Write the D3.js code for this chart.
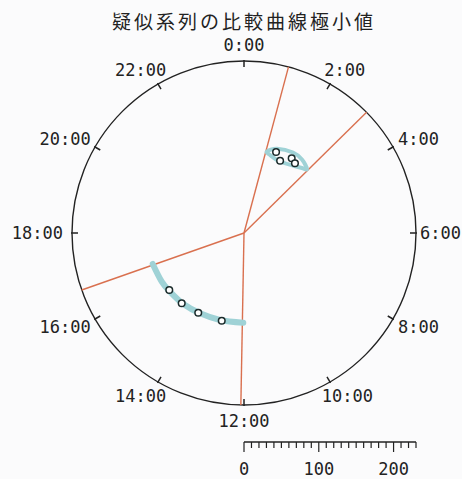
<!DOCTYPE html>
<html><head><meta charset="utf-8">
<script src="https://cdn.jsdelivr.net/npm/d3@7/dist/d3.min.js"></script>
<style>html,body{margin:0;padding:0;background:#fbfbfc;}svg{display:block;}</style>
</head><body><svg id="c" width="462" height="479"></svg>
<script>
// ---- data ----
const titleText = "疑似系列の比較曲線極小値";
const hourTicks = [0,2,4,6,8,10,12,14,16,18,20,22];
const hourLabels = ["0:00","2:00","4:00","6:00","8:00","10:00","12:00","14:00","16:00","18:00","20:00","22:00"];
const radialMax = 230;
const scaleTicksMajor = [0,100,200];
const scaleTickStep = 10;
// boundary lines (hours)
const boundaryHours = [1.0, 3.03, 12.07, 16.71];
// comparison curve (top loop)
const loopHours  = [1.05, 1.43, 2.09, 2.55, 2.97, 2.78, 2.40, 1.78, 1.23];
const loopValues = [113.2, 121.0, 126.0, 125.2, 120.0, 116.5, 111.5, 107.0, 110.0];
// comparison curve (bottom arc)
const arcHours  = [16.75, 15.96, 15.44, 14.70, 13.91, 13.03, 12.03];
const arcValues = [128.9, 127.8, 126.3, 124.9, 122.4, 120.7, 120.0];
// minima points
const pointHours  = [1.44, 1.77, 2.17, 2.41, 15.51, 14.77, 13.99, 12.95];
const pointValues = [116.5, 108.0, 118.5, 115.5, 125.7, 125.6, 122.9, 121.0];

// ---- drawing ----
const svg = d3.select("#c");
const cx = 244, cy = 233, R = 172;
const W = 462;
const ang = d3.scaleLinear().domain([0,24]).range([0, 2*Math.PI]);
const rad = d3.scaleLinear().domain([0, radialMax]).range([0, R]);
const g = svg.append("g").attr("transform", `translate(${cx},${cy})`);
const monoFont = "'DejaVu Sans Mono', monospace";

svg.append("text").attr("x", cx).attr("y", 29).attr("text-anchor","middle")
  .attr("font-family","'Noto Sans CJK JP'").attr("font-size",19).attr("letter-spacing",3)
  .attr("fill","#222").text(titleText);

g.append("circle").attr("r", R).attr("fill","none").attr("stroke","#222").attr("stroke-width",1.4);

// hour ticks and labels
hourTicks.forEach((h,i) => {
  const a = ang(h), s = Math.sin(a), c = -Math.cos(a);
  g.append("line").attr("x1", s*(R+1)).attr("y1", c*(R+1)).attr("x2", s*(R-6)).attr("y2", c*(R-6))
    .attr("stroke","#222").attr("stroke-width",1.5);
  const t = g.append("text").attr("font-family", monoFont).attr("font-size",17).attr("fill","#222")
    .attr("text-anchor","middle").attr("dominant-baseline","central").text(hourLabels[i]);
  const w = t.node().getComputedTextLength();
  const hh = 14;
  const d = R + 9;
  let x = s*d + s*w/2;
  // keep labels inside the page width
  const maxX = W - cx - w/2 - 1;
  if (x > maxX) x = maxX;
  t.attr("x", x).attr("y", c*d + c*hh/2);
});

// boundary lines
g.selectAll(".bl").data(boundaryHours).join("line")
  .attr("x1",0).attr("y1",0)
  .attr("x2", h => Math.sin(ang(h))*rad(radialMax))
  .attr("y2", h => -Math.cos(ang(h))*rad(radialMax))
  .attr("stroke","#d9704f").attr("stroke-width",1.4);

// comparison curves
const loopData = loopHours.map((h,i)=>[h, loopValues[i]]);
const arcData = arcHours.map((h,i)=>[h, arcValues[i]]);
const lr = d3.lineRadial().angle(d=>ang(d[0])).radius(d=>rad(d[1]));
g.append("path").attr("d", lr.curve(d3.curveCardinalClosed)(loopData))
  .attr("fill","none").attr("stroke","#9fd2d6").attr("stroke-width",4);
g.append("path").attr("d", lr.curve(d3.curveCardinal)(arcData))
  .attr("fill","none").attr("stroke","#9fd2d6").attr("stroke-width",6).attr("stroke-linecap","round");

// points
g.selectAll(".pt").data(pointHours.map((h,i)=>[h, pointValues[i]])).join("circle")
  .attr("cx", d => Math.sin(ang(d[0]))*rad(d[1]))
  .attr("cy", d => -Math.cos(ang(d[0]))*rad(d[1]))
  .attr("r", 3.3).attr("fill","#fff").attr("stroke","#1a2a2a").attr("stroke-width",1.5);

// scale bar
const sb = svg.append("g").attr("transform", `translate(${cx},442)`);
sb.append("line").attr("x1", rad(0)).attr("x2", rad(radialMax)).attr("y1",0).attr("y2",0)
  .attr("stroke","#222").attr("stroke-width",1.4);
const minorTicks = d3.range(0, radialMax + 0.1, scaleTickStep);
sb.selectAll(".mt").data(minorTicks).join("line")
  .attr("x1", d=>rad(d)).attr("x2", d=>rad(d)).attr("y1",0)
  .attr("y2", d => scaleTicksMajor.includes(d) ? 10 : 6)
  .attr("stroke","#222").attr("stroke-width",1.2);
sb.selectAll(".lb").data(scaleTicksMajor).join("text")
  .attr("x", d=>rad(d)).attr("y", 33).attr("text-anchor","middle")
  .attr("font-family", monoFont).attr("font-size",17).attr("fill","#222").text(d=>d);
</script></body></html>
